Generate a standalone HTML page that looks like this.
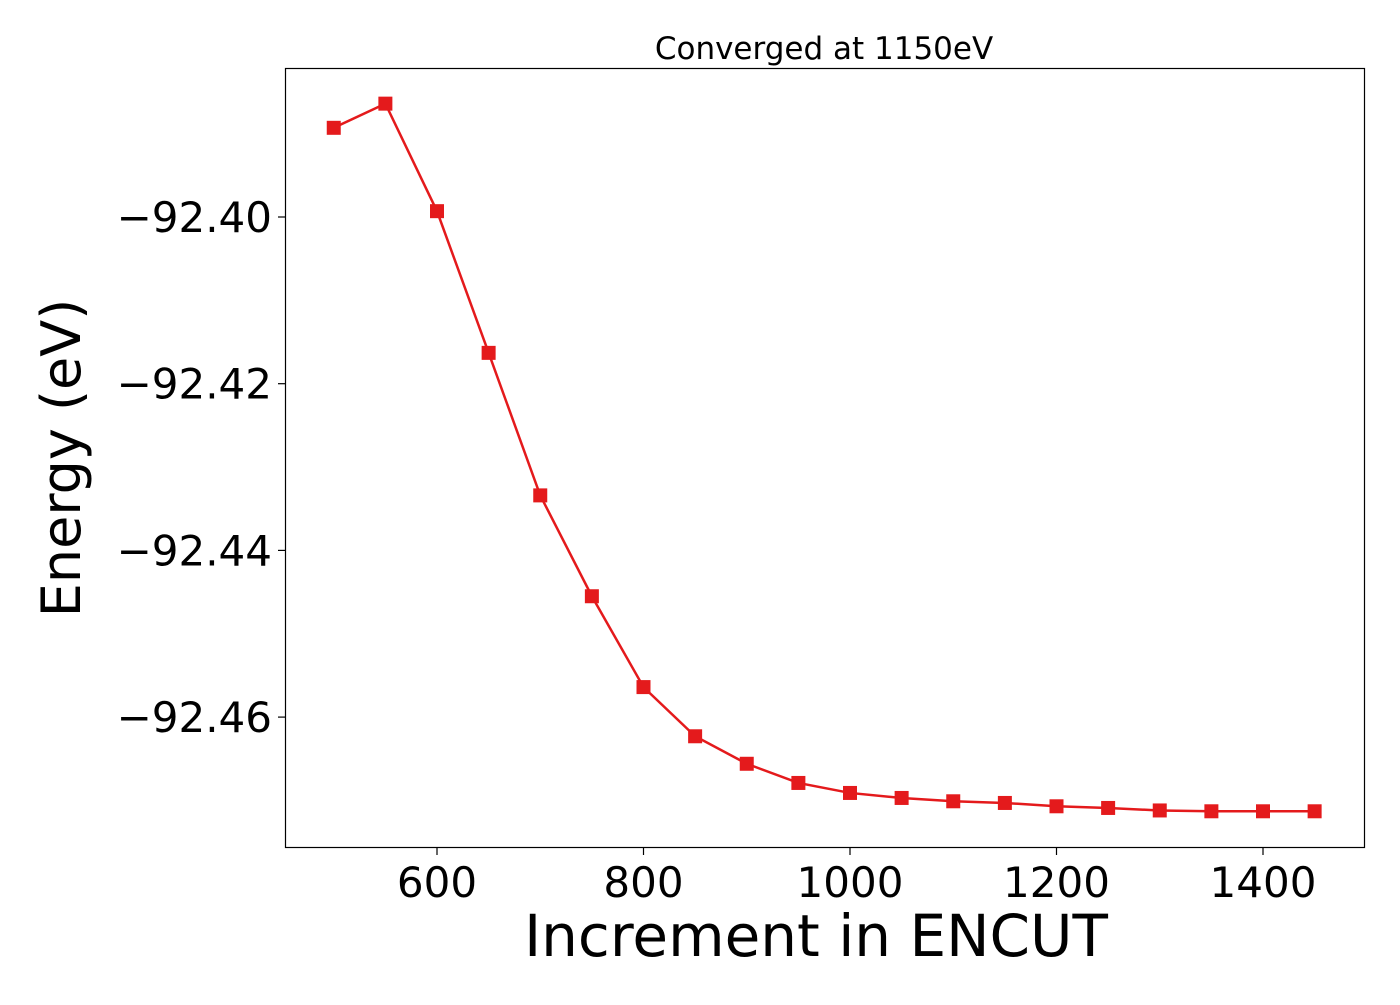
<!DOCTYPE html>
<html><head><meta charset="utf-8"><style>
body{margin:0;background:#fff;}
svg text{font-family:"DejaVu Sans","Liberation Sans",sans-serif;fill:#000;}
</style></head><body>
<svg width="1400" height="1000" xmlns="http://www.w3.org/2000/svg">
<rect x="0" y="0" width="1400" height="1000" fill="#fff"/>
<text x="824" y="59" font-size="31" text-anchor="middle">Converged at 1150eV</text>
<g id="plot"></g>
<rect x="285.5" y="68.5" width="1079" height="779" fill="none" stroke="#000" stroke-width="1.2"/>
<text x="816" y="956" font-size="58" text-anchor="middle">Increment in ENCUT</text>
<text transform="translate(80,458) rotate(-90)" font-size="54" text-anchor="middle">Energy (eV)</text>
</svg>
<script>
const xValues=[500,550,600,650,700,750,800,850,900,950,1000,1050,1100,1150,1200,1250,1300,1350,1400,1450];
const energy=[-92.3893,-92.3864,-92.3993,-92.4163,-92.4334,-92.4455,-92.4564,-92.4623,-92.4656,-92.4679,-92.4691,-92.4697,-92.4701,-92.4703,-92.4707,-92.4709,-92.4712,-92.4713,-92.4713,-92.4713];
const xTicks=[600,800,1000,1200,1400];
const yTicks=[-92.40,-92.42,-92.44,-92.46];
const NS="http://www.w3.org/2000/svg";
const xs=v=>437+(v-600)*(206.5/200);
const ys=v=>217+(-92.40-v)*(166.7/0.02);
const svg=document.querySelector('svg');
const g=document.getElementById('plot');
function mk(t,a){const e=document.createElementNS(NS,t);for(const k in a)e.setAttribute(k,a[k]);return e;}
xTicks.forEach(t=>{
  const l=mk('line',{x1:xs(t),x2:xs(t),y1:848,y2:855,stroke:'#000','stroke-width':1.2});
  
  
  svg.appendChild(l);
  const tx=mk('text',{x:xs(t),y:897,'font-size':42,'text-anchor':'middle'});
  tx.textContent=t;
  
  
  svg.appendChild(tx);
});
yTicks.forEach(t=>{
  const l=mk('line',{x1:278,x2:285,y1:ys(t),y2:ys(t),stroke:'#000','stroke-width':1.2});
  
  
  svg.appendChild(l);
  const tx=mk('text',{x:272,y:ys(t)+15,'font-size':42,'text-anchor':'end'});
  tx.textContent='\u2212'+Math.abs(t).toFixed(2);
  
  
  svg.appendChild(tx);
});
const pts=xValues.map((x,i)=>xs(x)+','+ys(energy[i])).join(' ');
const pl=mk('polyline',{points:pts,fill:'none',stroke:'#e41a1c','stroke-width':2.5});


g.appendChild(pl);
xValues.forEach((x,i)=>{
  const r=mk('rect',{x:xs(x)-7,y:ys(energy[i])-7,width:14,height:14,fill:'#e41a1c'});
  
  
  g.appendChild(r);
});
</script>
</body></html>
